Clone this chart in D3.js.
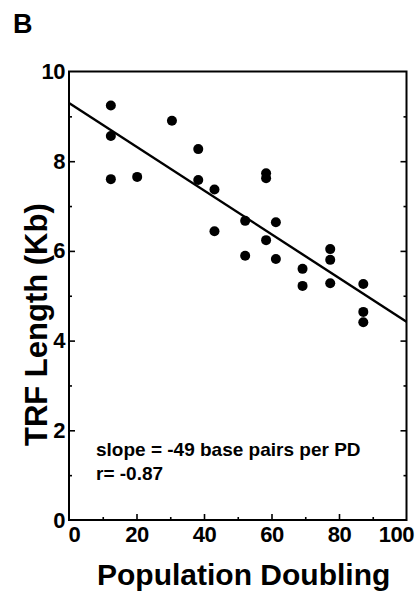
<!DOCTYPE html>
<html>
<head>
<meta charset="utf-8">
<script src="https://cdn.jsdelivr.net/npm/d3@7"></script>
<style>
  html, body { margin: 0; padding: 0; background: #fff; }
  svg { display: block; font-family: "Liberation Sans", Arial, Helvetica, sans-serif; font-weight: bold; }
</style>
</head>
<body>
<svg id="chart" width="419" height="597"></svg>
<script>
// ---- data ----
const pdValues  = [12.4, 12.4, 12.4, 20.2, 30.5, 38.3, 38.3, 43.1, 43.1, 52.2, 52.2, 58.4, 58.4, 58.4, 61.3, 61.3, 69.2, 69.2, 77.4, 77.4, 77.4, 87.2, 87.2, 87.2];
const trfValues = [9.24, 8.56, 7.60, 7.65, 8.90, 8.27, 7.58, 7.37, 6.44, 6.67, 5.89, 7.73, 7.62, 6.24, 6.64, 5.82, 5.60, 5.22, 6.04, 5.80, 5.28, 5.26, 4.64, 4.41];
const fitX = [0, 100];
const fitY = [9.30, 4.42];
const xMajorTicks = [0, 20, 40, 60, 80, 100];
const xMinorTicks = [10, 30, 50, 70, 90];
const yMajorTicks = [0, 2, 4, 6, 8, 10];
const yMinorTicks = [1, 3, 5, 7, 9];
const panelLabel = "B";
const xTitle = "Population Doubling";
const yTitle = "TRF Length (Kb)";
const annotations = ["slope = -49 base pairs per PD", "r= -0.87"];

// ---- layout ----
const L = 69, R = 406.5, T = 71.5, B = 520;
const svg = d3.select("#chart");
const x = d3.scaleLinear().domain([0, 100]).range([L, R]);
const y = d3.scaleLinear().domain([0, 10]).range([B, T]);

// frame
svg.append("rect").attr("x", L).attr("y", T).attr("width", R - L).attr("height", B - T)
  .attr("fill", "none").attr("stroke", "#000").attr("stroke-width", 2);

function styleAxis(g) {
  g.select(".domain").remove();
  g.selectAll("line").attr("stroke", "#000").attr("stroke-width", 1.6);
  g.selectAll("text").attr("fill", "#000").style("font-size", "22px").style("font-weight", "bold")
    .style("font-family", "'Liberation Sans', Arial, sans-serif").style("letter-spacing", "-0.5px");
}

// bottom axis major
const gxb = svg.append("g").attr("transform", `translate(0,${B})`)
  .call(d3.axisBottom(x).tickValues(xMajorTicks).tickSizeInner(-6).tickSizeOuter(0).tickPadding(6).tickFormat(d3.format("d")));
styleAxis(gxb);
gxb.selectAll(".tick").filter(d => d === 0).select("text").attr("text-anchor", "start").attr("x", -1);
gxb.selectAll(".tick").filter(d => d === 100).select("text").attr("text-anchor", "end").attr("x", 7);
gxb.selectAll(".tick").filter(d => d === 0 || d === 100).select("line").remove();
// bottom minor
const gxbm = svg.append("g").attr("transform", `translate(0,${B})`)
  .call(d3.axisBottom(x).tickValues(xMinorTicks).tickSizeInner(-3).tickSizeOuter(0).tickFormat(""));
styleAxis(gxbm);

// left axis major
const gyl = svg.append("g").attr("transform", `translate(${L},0)`)
  .call(d3.axisLeft(y).tickValues(yMajorTicks).tickSizeInner(-6).tickSizeOuter(0).tickPadding(4).tickFormat(d3.format("d")));
styleAxis(gyl);
gyl.selectAll(".tick").filter(d => d === 0 || d === 10).select("line").remove();
const gylm = svg.append("g").attr("transform", `translate(${L},0)`)
  .call(d3.axisLeft(y).tickValues(yMinorTicks).tickSizeInner(-3).tickSizeOuter(0).tickFormat(""));
styleAxis(gylm);

// right axis (ticks only)
const gyr = svg.append("g").attr("transform", `translate(${R},0)`)
  .call(d3.axisRight(y).tickValues(yMajorTicks.filter(d => d > 0 && d < 10)).tickSizeInner(-6).tickSizeOuter(0).tickFormat(""));
styleAxis(gyr);
const gyrm = svg.append("g").attr("transform", `translate(${R},0)`)
  .call(d3.axisRight(y).tickValues(yMinorTicks).tickSizeInner(-3).tickSizeOuter(0).tickFormat(""));
styleAxis(gyrm);

// regression line
svg.append("line")
  .attr("x1", x(fitX[0])).attr("y1", y(fitY[0]))
  .attr("x2", x(fitX[1])).attr("y2", y(fitY[1]))
  .attr("stroke", "#000").attr("stroke-width", 2.4);

// points
svg.append("g").selectAll("circle").data(pdValues.map((v, i) => [v, trfValues[i]]))
  .join("circle")
  .attr("cx", d => x(d[0])).attr("cy", d => y(d[1])).attr("r", 5).attr("fill", "#000");

// annotation
svg.append("g").selectAll("text").data(annotations).join("text")
  .attr("x", 96).attr("y", (d, i) => 456 + i * 24)
  .style("font-size", "19px")
  .text(d => d);

// titles
svg.append("text").attr("x", 97).attr("y", 585).style("font-size", "30px").text(xTitle);
svg.append("text").attr("transform", `translate(47,${446}) rotate(-90)`).style("font-size", "31px").text(yTitle);
svg.append("text").attr("x", 13).attr("y", 33).style("font-size", "27px").text(panelLabel);
</script>
</body>
</html>
